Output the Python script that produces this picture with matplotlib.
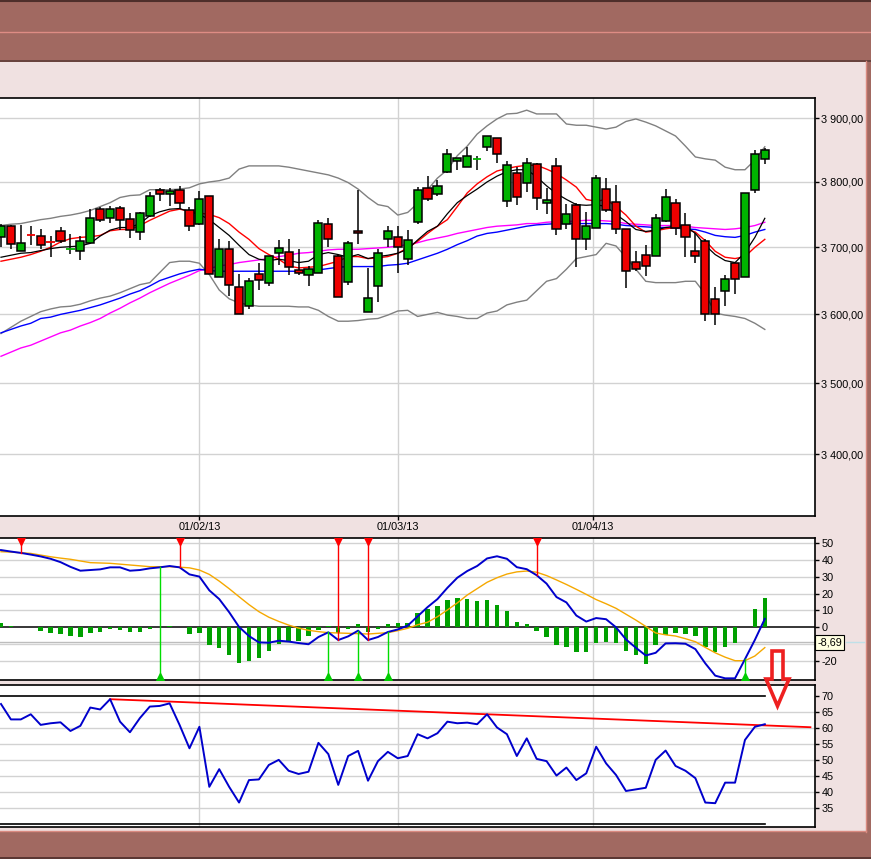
import numpy as np
import matplotlib
matplotlib.use("Agg")
import matplotlib.pyplot as plt
from matplotlib.patches import Rectangle, Polygon
from matplotlib.lines import Line2D
from matplotlib.ticker import FixedLocator, NullLocator, FuncFormatter, NullFormatter

plt.rcParams['font.family'] = ['Liberation Sans', 'DejaVu Sans']

# ---------------- data ----------------
opens = [3715, 3733, 3694, 3719.3, 3717, 3707.3, 3724, 3698, 3694, 3706,
         3759, 3744, 3760, 3743, 3723, 3747, 3787, 3781, 3787, 3756,
         3736, 3778, 3656, 3697, 3641, 3613, 3660, 3647, 3692, 3693,
         3666, 3659, 3662, 3735, 3687, 3648, 3724, 3603, 3642, 3712,
         3716, 3682, 3739, 3790, 3781, 3816, 3832, 3823, 3836, 3855,
         3869, 3770, 3814, 3798, 3828, 3768, 3825, 3736, 3765, 3712,
         3729, 3789, 3769, 3728, 3678, 3688, 3687, 3740, 3768, 3734,
         3694, 3710, 3622, 3635, 3677, 3656, 3787, 3836]
highs = [3736, 3734, 3734, 3732, 3728, 3717, 3731, 3720, 3717, 3759,
         3762, 3763, 3763, 3752, 3753, 3784, 3790, 3791, 3794, 3761,
         3786, 3779, 3712, 3710, 3660, 3654, 3677, 3687, 3711, 3712,
         3697, 3672, 3742, 3745, 3689, 3710, 3788, 3669, 3697, 3732,
         3733, 3726, 3792, 3809, 3803, 3852, 3838, 3855, 3840, 3872,
         3869, 3833, 3824, 3837, 3830, 3790, 3838, 3766, 3767, 3754,
         3811, 3806, 3795, 3728, 3695, 3703, 3751, 3789, 3774, 3752,
         3722, 3712, 3641, 3659, 3677, 3783, 3850, 3853]
lows = [3700, 3697, 3694, 3704, 3697, 3685, 3706, 3690, 3681, 3706,
        3738, 3737, 3726, 3714, 3711, 3746, 3771, 3763, 3759, 3725,
        3734, 3660, 3656, 3627, 3601, 3608, 3636, 3642, 3673, 3658,
        3659, 3642, 3662, 3701, 3625, 3644, 3705, 3603, 3619, 3701,
        3662, 3674, 3736, 3770, 3779, 3814, 3819, 3823, 3819, 3849,
        3829, 3761, 3764, 3785, 3757, 3751, 3719, 3728, 3670, 3696,
        3729, 3754, 3720, 3639, 3664, 3657, 3687, 3738, 3718, 3686,
        3676, 3590, 3584, 3612, 3630, 3656, 3783, 3828]
closes = [3732, 3705, 3707, 3719, 3704, 3707, 3709, 3698.3, 3710, 3745,
          3742, 3759, 3742, 3726, 3752, 3779, 3782, 3786, 3767, 3732,
          3773, 3660, 3697, 3644, 3601, 3650, 3651, 3687, 3699, 3671,
          3662, 3668, 3737, 3712, 3626, 3707, 3721, 3624, 3692, 3724,
          3701, 3711, 3788, 3774, 3794, 3843, 3838, 3840, 3836.3, 3872,
          3844, 3827, 3776, 3829, 3775, 3772, 3728, 3750, 3713, 3733,
          3806, 3756, 3727, 3665, 3668, 3672, 3745, 3777, 3730, 3715,
          3687, 3600, 3600, 3653, 3653, 3783, 3843, 3850]

ma_black = [3685, 3688, 3691, 3692, 3695, 3698, 3700, 3701, 3702, 3706,
            3717, 3726, 3730, 3730, 3736, 3748, 3754, 3758, 3759, 3754,
            3750, 3742, 3730, 3718, 3703, 3689, 3682, 3680, 3682, 3680,
            3677, 3679, 3689, 3692, 3689, 3685, 3689, 3683, 3686, 3688,
            3691, 3697, 3711, 3724, 3732, 3751, 3768, 3779, 3789, 3800,
            3809, 3816, 3819, 3819, 3808, 3794, 3782, 3773, 3765, 3764,
            3765, 3762, 3750, 3739, 3727, 3724, 3726, 3730, 3732, 3732,
            3721, 3703, 3689, 3680, 3677, 3692, 3715, 3744]
ma_red = [3679, 3682, 3685, 3689, 3694, 3700, 3708, 3713, 3715, 3716,
          3718, 3725, 3727, 3727, 3733, 3741, 3748, 3755, 3758, 3755,
          3752, 3750, 3745, 3736, 3723, 3712, 3698, 3689, 3682, 3672,
          3669, 3670, 3671, 3675, 3679, 3686, 3686, 3683, 3684, 3686,
          3691, 3699, 3709, 3721, 3732, 3742, 3762, 3783, 3797, 3808,
          3817, 3821, 3824, 3826, 3826, 3820, 3813, 3803, 3792, 3773,
          3770, 3773, 3762, 3749, 3732, 3723, 3725, 3728, 3730, 3728,
          3723, 3710, 3694, 3685, 3683, 3686, 3700, 3712]
ma_blue = [3573, 3578, 3583, 3587, 3594, 3596, 3600, 3603, 3606, 3610,
           3614, 3619, 3624, 3630, 3635, 3642, 3650, 3655, 3660, 3664,
           3667, 3665, 3664, 3664, 3664, 3664, 3664, 3664, 3664, 3664,
           3664, 3664, 3666, 3668, 3670, 3671, 3671, 3671, 3671, 3673,
           3674, 3676, 3681, 3686, 3691, 3697, 3704, 3710, 3717, 3721,
           3723, 3726, 3729, 3732, 3734, 3735, 3736, 3736, 3736, 3736,
           3736, 3736, 3735, 3733, 3732, 3731, 3730, 3730, 3729, 3728,
           3727, 3723, 3718, 3716, 3715, 3718, 3723, 3727]
ma_magenta = [3539, 3545, 3551, 3555, 3561, 3567, 3573, 3577, 3583, 3588,
              3594, 3602, 3609, 3617, 3624, 3632, 3639, 3646, 3652, 3658,
              3665, 3668, 3672, 3674, 3677, 3679, 3681, 3683, 3686, 3688,
              3691, 3692, 3694, 3696, 3697, 3697, 3697, 3698, 3699, 3700,
              3702, 3704, 3707, 3711, 3714, 3717, 3721, 3724, 3727, 3730,
              3732, 3733, 3734, 3736, 3736, 3738, 3739, 3739, 3740, 3741,
              3741, 3740, 3739, 3736, 3735, 3734, 3733, 3733, 3733, 3732,
              3730, 3729, 3728, 3727, 3728, 3730, 3733, 3738]
bb_upper = [3733, 3735, 3736, 3739, 3742, 3744, 3747, 3749, 3752, 3756,
            3762, 3768, 3776, 3779, 3780, 3788, 3788, 3788, 3789, 3791,
            3797, 3800, 3802, 3806, 3820, 3825, 3825, 3825, 3825, 3823,
            3820, 3817, 3814, 3811, 3806, 3799, 3789, 3776, 3765, 3762,
            3749, 3753, 3767, 3788, 3806, 3819, 3841, 3856, 3875, 3888,
            3899, 3907, 3908, 3913, 3907, 3907, 3907, 3891, 3889, 3889,
            3886, 3883, 3886, 3895, 3899, 3894, 3888, 3880, 3872, 3856,
            3839, 3836, 3834, 3823, 3819, 3819, 3834, 3855]
bb_lower = [3572, 3581, 3590, 3597, 3604, 3608, 3611, 3612, 3615, 3620,
            3624, 3627, 3632, 3638, 3644, 3647, 3662, 3677, 3679, 3679,
            3676, 3659, 3636, 3623, 3617, 3614, 3612, 3612, 3612, 3612,
            3611, 3611, 3606, 3597, 3590, 3590, 3591, 3593, 3594, 3599,
            3605, 3606, 3597, 3600, 3603, 3599, 3597, 3594, 3594, 3602,
            3605, 3614, 3618, 3621, 3635, 3649, 3653, 3667, 3683, 3686,
            3689, 3706, 3702, 3685, 3667, 3649, 3647, 3647, 3647, 3649,
            3649, 3630, 3602, 3599, 3597, 3594, 3587, 3578]

macd_line = [46.0, 45.1, 44.3, 43.3, 42.2, 40.8, 38.8, 36.0, 33.7, 34.1,
             34.5, 35.7, 35.7, 33.7, 34.1, 35.1, 35.7, 36.5, 35.7, 31.5,
             30.2, 22.0, 16.8, 9.0, 0.2, -5.2, -9.0, -9.2, -8.0, -8.5,
             -9.4, -10.1, -5.8, -3.0, -7.6, -5.4, -2.0, -7.6, -5.8, -2.8,
             -1.3, 1.0, 6.5, 12.0, 16.8, 23.5, 29.5, 33.5, 36.5, 41.0,
             42.3, 40.8, 35.8, 34.6, 31.0, 26.0, 18.0, 14.8, 7.0, 3.4,
             5.5, 4.8, 0.0, -7.2, -12.2, -16.8, -15.2, -9.6, -9.5, -9.8,
             -13.0, -21.5, -28.8, -30.4, -30.4, -19.0, -7.5, 5.0]
macd_signal = [45.0, 44.8, 44.4, 44.0, 43.0, 42.0, 41.2, 40.5, 39.5, 38.5,
               38.3, 38.1, 37.6, 37.1, 36.6, 36.1, 36.1, 36.1, 35.8, 35.4,
               34.1, 31.5, 27.5, 23.0, 18.2, 13.5, 9.3, 6.0, 3.5, 1.3,
               -0.5, -1.8, -2.6, -3.2, -3.4, -3.6, -3.8, -4.0, -3.6, -3.2,
               -2.0, -0.6, 1.5, 3.0, 6.3, 10.3, 14.5, 19.2, 23.0, 26.8,
               29.5, 31.7, 33.0, 33.5, 32.8, 30.8, 28.2, 25.5, 22.6, 19.6,
               16.5, 14.0, 11.3, 7.8, 4.3, 0.5, -3.4, -4.5, -5.2, -6.8,
               -8.6, -12.0, -15.2, -17.8, -19.9, -19.9, -17.1, -12.1]
macd_hist = [2.4, 0.8, 0.0, 0.0, -2.0, -3.2, -4.0, -5.2, -5.8, -3.2,
             -2.6, -1.0, -1.6, -2.6, -2.6, -1.0, 0.0, 0.8, 0.0, -4.0,
             -3.2, -10.5, -12.1, -16.5, -21.0, -19.8, -18.0, -13.9, -9.9, -7.9,
             -7.9, -5.2, -1.6, 0.8, -3.2, -0.8, 1.8, -2.6, -0.8, 1.8,
             2.4, 2.8, 8.3, 10.7, 12.7, 16.3, 17.3, 16.7, 15.7, 16.3,
             13.3, 9.7, 3.2, 2.0, -2.0, -5.6, -10.5, -11.5, -14.5, -14.5,
             -9.1, -8.5, -9.5, -13.9, -16.5, -21.8, -10.5, -4.6, -3.2, -4.0,
             -5.2, -11.5, -14.5, -11.9, -9.5, 0.0, 10.9, 17.3]
sell_idx = [2, 18, 34, 37, 54]
buy_idx = [16, 33, 36, 39, 75]
cursor_value = -8.69
cursor_label = "-8,69"

rsi = [67.5, 62.7, 62.7, 64.3, 61.0, 61.5, 61.8, 59.1, 60.7, 66.4,
       65.8, 69.0, 62.0, 58.7, 63.1, 66.7, 66.9, 67.7, 61.0, 53.7,
       60.4, 41.7, 47.2, 41.7, 36.8, 43.8, 44.0, 48.5, 50.1, 46.7,
       45.7, 46.4, 55.4, 51.9, 42.3, 51.3, 52.9, 43.6, 49.7, 52.6,
       50.6, 51.3, 58.1, 56.8, 58.4, 62.0, 61.5, 61.7, 61.2, 64.3,
       60.2, 58.1, 51.3, 56.8, 50.4, 49.7, 45.2, 47.7, 43.8, 45.9,
       54.2, 49.0, 45.4, 40.4, 40.9, 41.4, 50.1, 53.0, 48.2, 46.7,
       44.4, 36.8, 36.6, 43.0, 43.0, 56.3, 60.4, 61.2]
rsi_trend_idx = [11, 49]
rsi_trend_val = [69.0, 64.3]
rsi_trend_end = 81.6
rsi_levels = [70, 30]

date_pos = [20, 40, 59.7]
date_labels = ['01/02/13', '01/03/13', '01/04/13']
price_ticks = [3400, 3500, 3600, 3700, 3800, 3900]
macd_ticks = [50, 40, 30, 20, 10, 0, -20]
macd_grid = [50, 40, 30, 20, 10, -10, -20]
rsi_ticks = [70, 65, 60, 55, 50, 45, 40, 35]
rsi_grid = [65, 60, 55, 50, 45, 40, 35]

# ---------------- figure ----------------
W, H = 871, 859
fig = plt.figure(figsize=(W / 100, H / 100), dpi=100)
PINK = '#F0E1E1'
BROWN = '#A16961'
fig.patch.set_facecolor(PINK)

def fx(px):
    return px / W

def fy(py):
    return 1 - py / H

def frect(x0, y0, x1, y1, color, z=0):
    fig.add_artist(Rectangle((fx(x0), fy(y1)), fx(x1) - fx(x0), fy(y0) - fy(y1),
                             transform=fig.transFigure, facecolor=color,
                             edgecolor='none', zorder=z))

def fline(x0, y0, x1, y1, color, lw=1.0, z=1):
    fig.add_artist(Line2D([fx(x0), fx(x1)], [fy(y0), fy(y1)],
                          transform=fig.transFigure, color=color, lw=lw, zorder=z))

# window decorations
frect(0, 0, W, 61.5, BROWN)
fline(0, 0.7, W, 0.7, '#4E2E2A', 1.5)
fline(0, 32, W, 32, '#DE8C84', 1.0)
fline(0, 61, W, 61, '#5E3C37', 1.2)
frect(866, 61, W, 832, BROWN)
fline(865.5, 61, 865.5, 832, '#D98A80', 1.0)
frect(0, 832, W, H, BROWN)
fline(0, 831, 866, 831, '#D98A80', 1.0)
fline(0, 858.3, W, 858.3, '#4E2E2A', 1.2)

XL = (-0.1, 82.06)
GRID = '#D2D2D2'
FS = 7.8

ax = fig.add_axes([0, fy(516), fx(815), (516 - 98) / H])
axm = fig.add_axes([0, fy(680), fx(815), (680 - 538.3) / H])
axr = fig.add_axes([0, fy(827), fx(815), (827 - 685.3) / H])

for a in (ax, axm, axr):
    a.set_facecolor('white')
    a.set_xlim(*XL)
    a.spines['left'].set_visible(False)
    for s in ('right', 'top', 'bottom'):
        a.spines[s].set_linewidth(1.2)
        a.spines[s].set_color('black')
    a.yaxis.tick_right()
    a.tick_params(axis='y', which='major', direction='out', length=3, width=1,
                  pad=1.5, labelsize=FS, left=False, right=True,
                  labelleft=False, labelright=True)
    for d in date_pos:
        a.axvline(d, color=GRID, lw=1, zorder=0.5)

# ---------------- main price panel ----------------
idx = np.arange(len(closes))
o = np.array(opens); c = np.array(closes)
h = np.array(highs); l = np.array(lows)

ax.set_yscale('log')
ax.set_ylim(3315.6, 3932.5)
ax.yaxis.set_major_locator(FixedLocator(price_ticks))
ax.yaxis.set_minor_locator(NullLocator())
ax.yaxis.set_minor_formatter(NullFormatter())
ax.yaxis.set_major_formatter(FuncFormatter(
    lambda v, p: f"{int(v) // 1000} {int(v) % 1000:03d},00"))
for pt in price_ticks:
    ax.axhline(pt, color=GRID, lw=1, zorder=0.5)

ax.set_xticks(date_pos)
ax.set_xticklabels(date_labels)
ax.tick_params(axis='x', direction='out', length=3, width=1, pad=1.5,
               labelsize=FS, bottom=True, top=False)

ax.plot(idx, bb_upper, color='#808080', lw=1.0, zorder=2)
ax.plot(idx, bb_lower, color='#808080', lw=1.0, zorder=2)
ax.plot(idx, ma_magenta, color='#FF00FF', lw=1.0, zorder=2)
ax.plot(idx, ma_blue, color='#0000FF', lw=1.0, zorder=2)
ax.plot(idx, ma_red, color='#FF0000', lw=1.0, zorder=2.1)
ax.plot(idx, ma_black, color='black', lw=0.9, zorder=2.2)

GREEN = '#00B300'
RED = '#EE0000'
ax.vlines(idx, l, h, color='black', lw=1.1, zorder=3)
for i in idx:
    col = GREEN if c[i] >= o[i] else RED
    if abs(c[i] - o[i]) < 1.0:
        ax.hlines(o[i], i - 0.42, i + 0.42, color=col, lw=1.3, zorder=4)
    else:
        ax.bar(i, abs(c[i] - o[i]), bottom=min(o[i], c[i]), width=0.82,
               color=col, edgecolor='black', lw=1.1, zorder=4)

# ---------------- MACD panel ----------------
axm.set_ylim(-31.4, 53)
axm.set_xticks([])
axm.set_yticks(macd_ticks)
axm.set_yticklabels([str(t) for t in macd_ticks])
for g in macd_grid:
    axm.axhline(g, color=GRID, lw=1, zorder=0.5)
axm.axhline(cursor_value, color='#BDBDBD', lw=1, zorder=0.6)
axm.axhline(0, color='black', lw=1.1, zorder=1)
axm.bar(idx, macd_hist, width=0.45, color='#00A000', zorder=2)
axm.plot(idx, macd_signal, color='#F5A800', lw=1.0, zorder=3)
axm.plot(idx, macd_line, color='#0000CC', lw=1.4, zorder=3.1)
mtop, mbot = 53, -31.4
for i in sell_idx:
    axm.plot([i, i], [macd_line[i], mtop], color='#FF0000', lw=1.0, zorder=4)
    axm.plot(i, 51.2, marker='v', color='#FF0000', ms=6, zorder=5)
for i in buy_idx:
    axm.plot([i, i], [mbot, macd_line[i]], color='#00DD00', lw=1.0, zorder=4)
    axm.plot(i, -29.6, marker='^', color='#00CC00', ms=6, zorder=5)

fig.text(fx(817.5), fy(642.5), cursor_label, fontsize=FS, ha='left', va='center',
         bbox=dict(boxstyle='square,pad=0.2', fc='#FFFFE1', ec='black', lw=0.8),
         zorder=20)
fline(846, 642, 864, 642, '#BFE0E8', 1.0, z=5)

# ---------------- RSI panel ----------------
axr.set_ylim(29.18, 73.33)
axr.set_xticks([])
axr.set_yticks(rsi_ticks)
axr.set_yticklabels([str(t) for t in rsi_ticks])
for g in rsi_grid:
    axr.axhline(g, color=GRID, lw=1, zorder=0.5)
for lv in rsi_levels:
    axr.plot([XL[0], idx[-1]], [lv, lv], color='black', lw=1.2, zorder=1)
slope = (rsi_trend_val[1] - rsi_trend_val[0]) / (rsi_trend_idx[1] - rsi_trend_idx[0])
tx = [rsi_trend_idx[0], rsi_trend_end]
ty = [rsi_trend_val[0], rsi_trend_val[0] + slope * (rsi_trend_end - rsi_trend_idx[0])]
axr.plot(tx, ty, color='#FF0000', lw=1.3, zorder=2)
axr.plot(idx, rsi, color='#0000CC', lw=1.4, zorder=3)

# ---------------- hollow red arrow annotation ----------------
arrow_px = [(772, 651), (783, 651), (783, 679), (789, 679),
            (777.5, 706), (766, 679), (772, 679)]
fig.add_artist(Polygon([(fx(a), fy(b)) for a, b in arrow_px], closed=True,
                       transform=fig.transFigure, fill=False,
                       edgecolor='#EE2020', lw=2.6, zorder=30))

fig.savefig('out.png', dpi=100, facecolor=fig.get_facecolor())
